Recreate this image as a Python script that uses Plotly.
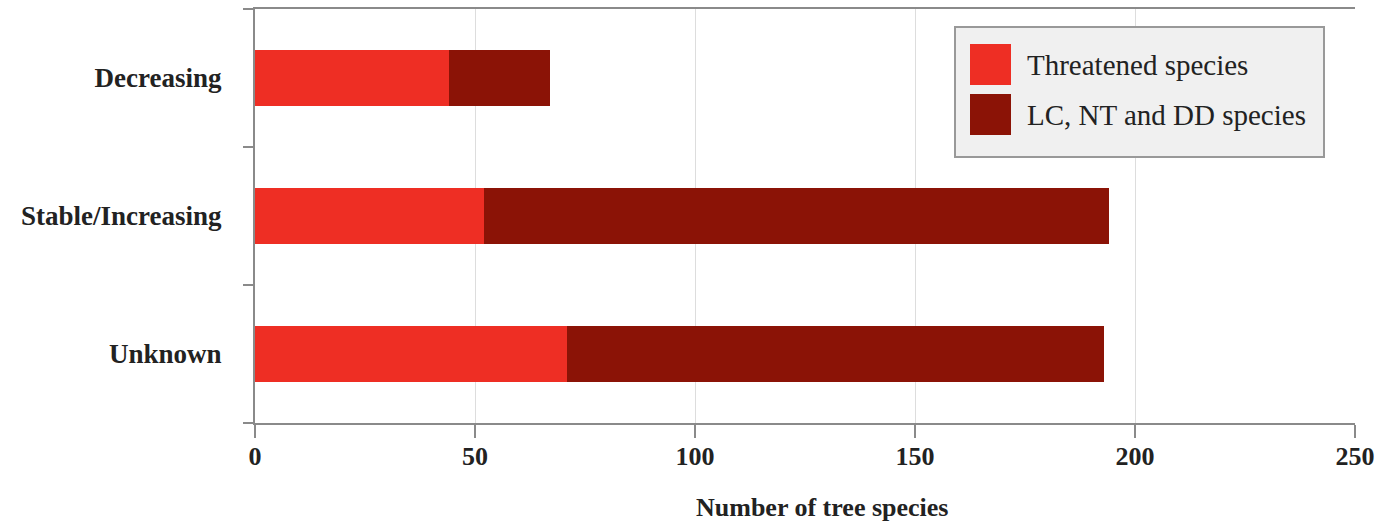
import plotly.graph_objects as go

categories = ["Decreasing", "Stable/Increasing", "Unknown"]
threatened = [44, 52, 71]
lc_nt_dd = [23, 142, 122]
series_names = ["Threatened species", "LC, NT and DD species"]
colors = ["#EE2E24", "#8B1306"]
x_ticks = [0, 50, 100, 150, 200, 250]
x_title = "Number of tree species"

FONT = "Liberation Serif"
L, R, T, B = 255, 43, 9, 101
PW, PH = 1398 - L - R, 524 - T - B

fig = go.Figure()
for name, vals, col in zip(series_names, [threatened, lc_nt_dd], colors):
    fig.add_trace(go.Bar(
        y=categories, x=vals, name=name, orientation="h",
        marker=dict(color=col, line=dict(width=0)),
        showlegend=False,
    ))

fig.update_layout(
    barmode="stack",
    bargap=0.6,
    width=1398, height=524,
    margin=dict(l=L, r=R, t=T, b=B),
    plot_bgcolor="white", paper_bgcolor="white",
    font=dict(family=FONT, color="#222"),
)
fig.update_xaxes(
    range=[0, 250], tickvals=x_ticks,
    showgrid=True, gridcolor="#dddddd", gridwidth=1,
    showline=True, linecolor="#8a8a8a", linewidth=2, mirror=True,
    ticks="outside", ticklen=13, tickcolor="#8a8a8a", tickwidth=2,
    tickfont=dict(family=FONT, size=26, color="#222", weight="bold"),
    ticklabelstandoff=-4,
    automargin=False,
    zeroline=False,
)
fig.update_yaxes(
    categoryorder="array", categoryarray=categories[::-1],
    showline=True, linecolor="#8a8a8a", linewidth=2,
    ticks="outside", ticklen=10, tickcolor="#8a8a8a", tickwidth=2,
    tickson="boundaries",
    tickfont=dict(family=FONT, size=27, color="#222", weight="bold"),
    ticklabelstandoff=26,
    automargin=False,
    showgrid=False,
)

# x-axis title
fig.add_annotation(xref="paper", yref="paper", x=(822 - L) / PW, y=-(507 - (T + PH)) / PH,
                   text="<b>" + x_title + "</b>", showarrow=False, xanchor="center", yanchor="middle",
                   font=dict(family=FONT, size=26, color="#222"))

# custom legend
x0, x1 = (955 - L) / PW, (1324 - L) / PW
y_top, y_bot = 1 - (27 - T) / PH, 1 - (157 - T) / PH
fig.add_shape(type="rect", xref="paper", yref="paper", x0=x0, x1=x1, y0=y_bot, y1=y_top,
              fillcolor="#f0f0f0", line=dict(color="#999999", width=2), layer="above")
sw_x0 = (970 - L) / PW
sw_x1 = (1011 - L) / PW
for i, (name, col) in enumerate(zip(series_names, colors)):
    top = 44 + i * 50
    yy1 = 1 - (top - T) / PH
    yy0 = 1 - (top + 41 - T) / PH
    fig.add_shape(type="rect", xref="paper", yref="paper", x0=sw_x0, x1=sw_x1, y0=yy0, y1=yy1,
                  fillcolor=col, line=dict(width=0), layer="above")
    fig.add_annotation(xref="paper", yref="paper", x=(1025 - L) / PW, y=(yy0 + yy1) / 2,
                       text=name, showarrow=False, xanchor="left", yanchor="middle",
                       font=dict(family=FONT, size=29, color="#222"))

fig.write_html("out.html", config={"displayModeBar": False},
               post_script="document.body.style.margin='0';")
